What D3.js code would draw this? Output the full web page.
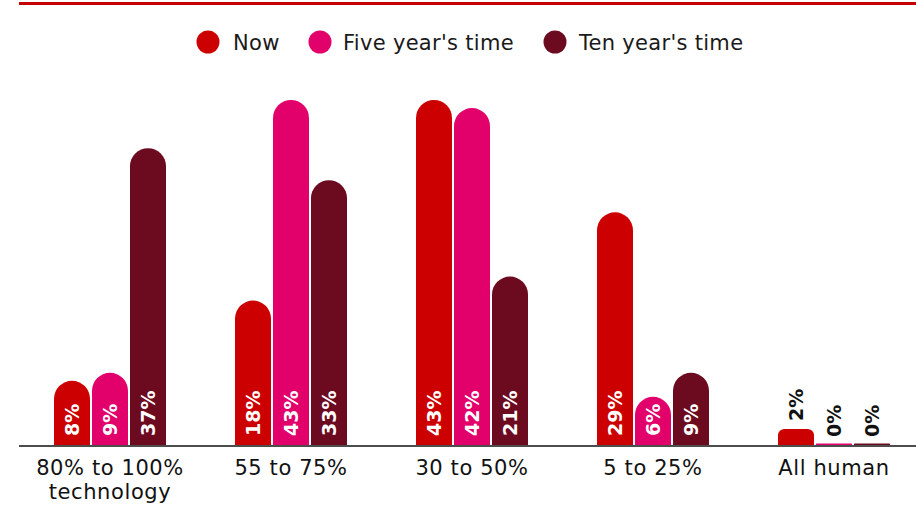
<!DOCTYPE html>
<html><head><meta charset="utf-8">
<script src="https://cdn.jsdelivr.net/npm/d3@7/dist/d3.min.js"></script>
<style>
html,body{margin:0;padding:0;background:#fff;}
svg{display:block;}
</style></head>
<body>
<svg id="chart" width="916" height="506"></svg>
<script>
const categories = [["80% to 100%","technology"],["55 to 75%"],["30 to 50%"],["5 to 25%"],["All human"]];
const seriesNames = ["Now","Five year's time","Ten year's time"];
const seriesColors = ["#cc0000","#e2006b","#6c0a1f"];
const nowValues = [8,18,43,29,2];
const fiveYearValues = [9,43,42,6,0];
const tenYearValues = [37,33,21,9,0];
const seriesValues = [nowValues, fiveYearValues, tenYearValues];

const FONT = "'DejaVu Sans', sans-serif";
const svg = d3.select("#chart");
const W = 916, H = 506;
const baseY = 445;

const catKeys = categories.map(c => c.join(" "));
const x0 = d3.scaleBand().domain(catKeys).range([19.5, 924.5]).paddingInner(1 - 112/181).paddingOuter((1 - 112/181)/2);
const x1 = d3.scaleBand().domain(seriesNames).range([0, x0.bandwidth()]).paddingInner(2/38).paddingOuter(0);
const y = d3.scaleLinear().domain([0, 43]).range([baseY, 100]);

// top rule
svg.append("line").attr("x1", 19).attr("x2", W).attr("y1", 3.5).attr("y2", 3.5)
  .attr("stroke", "#c40000").attr("stroke-width", 3);

// legend
const legendItems = [
  {name: seriesNames[0], cx: 208, tx: 233},
  {name: seriesNames[1], cx: 320, tx: 343},
  {name: seriesNames[2], cx: 555, tx: 579}
];
const lg = svg.append("g");
legendItems.forEach((d, i) => {
  lg.append("circle").attr("cx", d.cx).attr("cy", 42).attr("r", 11.5).attr("fill", seriesColors[i]);
  lg.append("text").attr("x", d.tx).attr("y", 49.5).attr("font-family", FONT).attr("font-size", 21)
    .attr("font-weight", 400).attr("letter-spacing", 0.3).attr("fill", "#1a1a1a").text(d.name);
});

// bars
const data = [];
catKeys.forEach((c, ci) => {
  seriesNames.forEach((s, si) => {
    data.push({cat: c, series: s, si, value: seriesValues[si][ci]});
  });
});

function barPath(d) {
  const bx = x0(d.cat) + x1(d.series);
  const w = x1.bandwidth();
  const top = y(d.value);
  let h = baseY - top;
  if (h < 1.5) h = 1.5;
  const t = baseY - h;
  const r = h >= w / 2 ? w / 2 : Math.min(h * 0.4, w / 2);
  return `M${bx},${baseY}V${t + r}A${r},${r} 0 0 1 ${bx + r},${t}H${bx + w - r}A${r},${r} 0 0 1 ${bx + w},${t + r}V${baseY}Z`;
}

const bars = svg.append("g");
bars.selectAll("path").data(data).join("path")
  .attr("d", barPath)
  .attr("fill", d => seriesColors[d.si]);

// axis line
svg.append("line").attr("x1", 19).attr("x2", W).attr("y1", baseY + 1).attr("y2", baseY + 1)
  .attr("stroke", "#4d4d4d").attr("stroke-width", 2);

// value labels
const labels = svg.append("g");
data.forEach(d => {
  const cx = x0(d.cat) + x1(d.series) + x1.bandwidth() / 2;
  const h = baseY - y(d.value);
  const t = labels.append("text")
    .attr("font-family", FONT).attr("font-size", 19).attr("font-weight", 700)
    .attr("dominant-baseline", "central")
    .text(d.value + "%");
  const len = t.node().getComputedTextLength();
  let inside = h >= len + 12;
  const ly = inside ? baseY - 9 : y(d.value) - 8;
  t.attr("fill", inside ? "#fff" : "#111")
    .attr("transform", `translate(${cx},${ly}) rotate(-90)`);
});

// category labels
const cl = svg.append("g");
categories.forEach((c, ci) => {
  const cx = x0(catKeys[ci]) + x0.bandwidth() / 2;
  const t = cl.append("text").attr("text-anchor", "middle").attr("font-family", FONT)
    .attr("font-size", 21).attr("letter-spacing", 0.6).attr("fill", "#111");
  c.forEach((line, li) => {
    t.append("tspan").attr("x", cx).attr("y", 475 + li * 24).text(line);
  });
});
</script>
</body></html>
